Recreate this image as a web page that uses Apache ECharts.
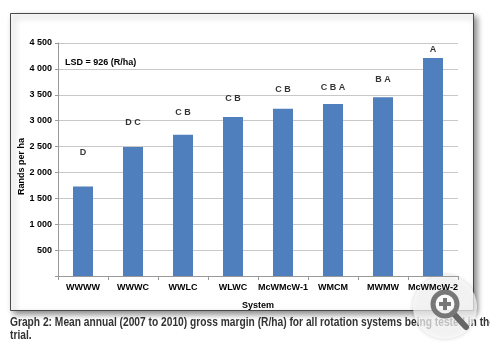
<!DOCTYPE html>
<html>
<head>
<meta charset="utf-8">
<script src="https://cdn.jsdelivr.net/npm/echarts@6/dist/echarts.min.js"></script>
<style>
  html, body { margin: 0; padding: 0; background: #fff; }
  #chart { width: 490px; height: 353px; }
</style>
</head>
<body>
<div id="chart"></div>
<script>
// rotation systems and mean gross margin (R/ha)
var systems = ["WWWW", "WWWC", "WWLC", "WLWC", "McWMcW-1", "WMCM", "MWMW", "McWMcW-2"];
var grossMargin = [1730, 2490, 2730, 3070, 3230, 3320, 3450, 4210];
// significance letters and the height at which each sits
var groups = ["D", "D C", "C B", "C B", "C B", "C B A", "B A", "A"];
var groupHeights = [2385, 2960, 3155, 3420, 3595, 3635, 3790, 4365];
var yTicks = { min: 0, max: 4500, step: 500 };

var caption1 = "Graph 2: Mean annual (2007 to 2010) gross margin (R/ha) for all rotation systems being tested in the";
var caption2 = "trial.";

// squeeze the caption font like the narrow face in the original
var capFont = "bold 13px 'Liberation Sans'";
var ctx = document.createElement("canvas").getContext("2d");
ctx.font = capFont;
var capScale = 485 / ctx.measureText(caption1).width;

function thousands(v) {
  if (v === 0) return "";
  return String(v).replace(/\B(?=(\d{3})+(?!\d))/g, " ");
}

var myChart = echarts.init(document.getElementById("chart"));
myChart.setOption({
  animation: false,
  textStyle: { fontFamily: "Liberation Sans" },
  grid: { left: 58, right: 32, top: 43, bottom: 77 },
  graphic: [
    {
      type: "rect",
      z: -10,
      shape: { x: 10.5, y: 13.5, width: 463, height: 297 },
      style: {
        fill: "#fff",
        stroke: "#4a4a4a",
        lineWidth: 1,
        shadowBlur: 6,
        shadowOffsetX: 3,
        shadowOffsetY: 3,
        shadowColor: "rgba(0,0,0,0.45)"
      }
    },
    {
      type: "text",
      left: 65,
      top: 58,
      style: { text: "LSD = 926 (R/ha)", font: "bold 9px 'Liberation Sans'", fill: "#000" }
    },
    {
      type: "text",
      x: 10,
      y: 316,
      scaleX: capScale,
      style: { text: caption1, font: capFont, fill: "#333" }
    },
    {
      type: "text",
      x: 10,
      y: 329,
      scaleX: capScale,
      style: { text: caption2, font: capFont, fill: "#333" }
    },
    // zoom badge in the corner
    {
      type: "group",
      z: 100,
      children: [
        {
          type: "circle",
          shape: { cx: 445, cy: 307, r: 32 },
          style: { fill: "rgba(255,255,255,0.7)", shadowBlur: 4, shadowColor: "rgba(0,0,0,0.25)" }
        },
        {
          type: "line",
          shape: { x1: 453, y1: 313, x2: 466, y2: 327 },
          style: { stroke: "#666", lineWidth: 6, lineCap: "round" }
        },
        {
          type: "circle",
          shape: { cx: 445, cy: 304, r: 12 },
          style: { fill: "rgba(255,255,255,0.6)", stroke: "#777", lineWidth: 5 }
        },
        {
          type: "line",
          shape: { x1: 439, y1: 304, x2: 451, y2: 304 },
          style: { stroke: "#777", lineWidth: 4 }
        },
        {
          type: "line",
          shape: { x1: 445, y1: 298, x2: 445, y2: 310 },
          style: { stroke: "#777", lineWidth: 4 }
        }
      ]
    }
  ],
  xAxis: {
    type: "category",
    data: systems,
    name: "System",
    nameLocation: "middle",
    nameGap: 25,
    nameMoveOverlap: false,
    nameTextStyle: { fontWeight: "bold", fontSize: 9, color: "#000" },
    axisLine: { lineStyle: { color: "#999" } },
    axisTick: { show: true, length: 4, lineStyle: { color: "#999" } },
    axisLabel: { fontWeight: "bold", fontSize: 9, color: "#000", margin: 7, interval: 0 }
  },
  yAxis: {
    type: "value",
    min: yTicks.min,
    max: yTicks.max,
    interval: yTicks.step,
    name: "Rands per ha",
    nameLocation: "middle",
    nameGap: 32,
    nameMoveOverlap: false,
    nameTextStyle: { fontWeight: "bold", fontSize: 9, color: "#000", padding: [0, 14, 0, 0] },
    axisLine: { show: true, lineStyle: { color: "#999" } },
    axisTick: { show: true, length: 3, lineStyle: { color: "#999" } },
    axisLabel: { fontWeight: "bold", fontSize: 9, color: "#000", margin: 6, formatter: thousands },
    splitLine: { lineStyle: { color: "#c8c8c8" } }
  },
  series: [
    {
      type: "bar",
      data: grossMargin,
      barWidth: 20,
      itemStyle: { color: "#4f7fbc" },
      silent: true
    },
    {
      type: "scatter",
      data: groupHeights,
      symbolSize: 0,
      silent: true,
      label: {
        show: true,
        position: "inside",
        formatter: function (p) { return groups[p.dataIndex]; },
        fontWeight: "bold",
        fontSize: 9,
        color: "#000"
      }
    }
  ]
});
</script>
</body>
</html>
